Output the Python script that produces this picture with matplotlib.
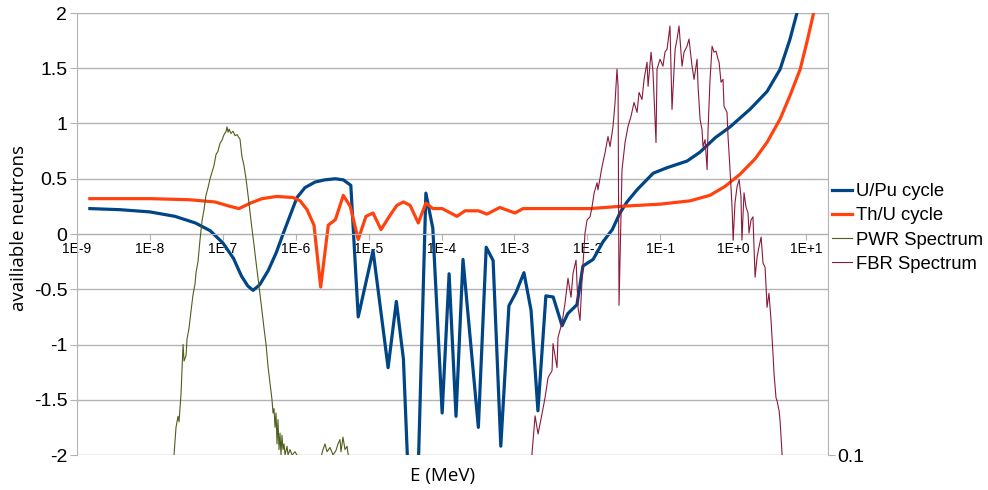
import numpy as np
import matplotlib.pyplot as plt
from matplotlib.ticker import NullLocator

plt.rcParams['font.family'] = ['Liberation Sans', 'DejaVu Sans']

# U/Pu cycle (energy in MeV, available neutrons)
upu_e = [1.5e-9, 3.9e-9, 1.0e-8, 2.2e-8, 4.2e-8, 6.7e-8, 1.0e-7, 1.4e-7, 1.8e-7, 2.2e-7,
         2.6e-7, 3.2e-7, 4.2e-7, 5.4e-7, 6.7e-7, 8.4e-7, 1.04e-6, 1.34e-6, 1.84e-6, 2.5e-6,
         3.5e-6, 4.5e-6, 5.7e-6, 7.2e-6, 1.15e-5, 1.85e-5, 2.4e-5, 3.0e-5, 4.2e-5, 6.1e-5,
         7.6e-5, 1.02e-4, 1.27e-4, 1.58e-4, 1.97e-4, 3.2e-4, 4.1e-4, 5.1e-4, 6.5e-4, 8.4e-4,
         1.05e-3, 1.35e-3, 1.69e-3, 2.1e-3, 2.7e-3, 3.4e-3, 4.5e-3, 5.4e-3, 7.2e-3, 8.7e-3,
         1.2e-2, 1.64e-2, 2.2e-2, 2.8e-2, 3.5e-2, 4.8e-2, 8.0e-2, 0.124, 0.233, 0.35,
         0.565, 0.91, 1.71, 2.92, 4.4, 6.0, 7.5, 9.7]
upu_n = [0.23, 0.22, 0.20, 0.16, 0.10, 0.03, -0.08, -0.22, -0.38, -0.47,
         -0.51, -0.46, -0.33, -0.17, 0.0, 0.17, 0.33, 0.42, 0.47, 0.49,
         0.50, 0.49, 0.44, -0.75, -0.15, -1.21, -0.61, -1.13, -3.5, 0.37,
         0.05, -1.62, -0.36, -1.65, -0.23, -1.75, -0.12, -0.24, -1.92, -0.65,
         -0.53, -0.35, -0.69, -1.60, -0.56, -0.57, -0.83, -0.72, -0.64, -0.29,
         -0.23, -0.07, 0.04, 0.19, 0.29, 0.40, 0.55, 0.60, 0.66, 0.74,
         0.87, 0.97, 1.13, 1.29, 1.49, 1.76, 2.0, 2.3]

# Th/U cycle
thu_e = [1.5e-9, 1.0e-8, 3.5e-8, 7.8e-8, 1.26e-7, 1.67e-7, 2.4e-7, 3.45e-7, 5.5e-7, 9.2e-7,
         1.15e-6, 1.43e-6, 1.78e-6, 2.2e-6, 2.8e-6, 3.5e-6, 4.5e-6, 5.6e-6, 7.2e-6, 9.2e-6,
         1.15e-5, 1.48e-5, 1.97e-5, 2.45e-5, 3.0e-5, 3.7e-5, 4.8e-5, 6.1e-5, 7.6e-5, 1.02e-4,
         1.63e-4, 2.1e-4, 3.2e-4, 4.2e-4, 6.3e-4, 1.02e-3, 1.31e-3, 3.4e-3, 1.09e-2, 2.8e-2,
         9.9e-2, 0.256, 0.48, 0.77, 1.24, 2.0, 2.92, 4.4, 6.0, 8.3,
         10.3, 12.5, 14.6]
thu_n = [0.32, 0.32, 0.31, 0.29, 0.25, 0.23, 0.28, 0.32, 0.34, 0.33,
         0.30, 0.22, 0.08, -0.48, 0.08, 0.13, 0.35, 0.25, -0.05, 0.16,
         0.19, 0.04, 0.17, 0.26, 0.29, 0.26, 0.10, 0.28, 0.23, 0.23,
         0.16, 0.21, 0.21, 0.18, 0.24, 0.19, 0.23, 0.23, 0.23, 0.25,
         0.27, 0.30, 0.35, 0.43, 0.54, 0.68, 0.83, 1.04, 1.25, 1.49,
         1.74, 1.98, 2.3]

# PWR spectrum (secondary log axis)
pwr_e = [2.0e-8, 2.14e-8, 2.28e-8, 2.43e-8, 2.51e-8, 2.67e-8, 2.85e-8, 2.94e-8, 3.13e-8, 3.23e-8, 3.44e-8,
         3.66e-8, 3.90e-8, 4.16e-8, 4.29e-8, 4.57e-8, 4.87e-8, 5.19e-8, 5.52e-8, 5.88e-8, 6.27e-8,
         6.68e-8, 7.11e-8, 7.57e-8, 8.07e-8, 8.59e-8, 9.15e-8, 9.75e-8, 1.04e-7, 1.11e-7, 1.14e-7,
         1.18e-7, 1.22e-7, 1.29e-7, 1.38e-7, 1.47e-7, 1.57e-7, 1.67e-7, 1.72e-7, 1.83e-7, 1.95e-7,
         2.08e-7, 2.22e-7, 2.36e-7, 2.51e-7, 2.68e-7, 2.85e-7, 3.04e-7, 3.24e-7, 3.45e-7, 3.67e-7,
         3.92e-7, 4.17e-7, 4.44e-7, 4.73e-7, 4.88e-7, 5.04e-7, 5.20e-7, 5.37e-7, 5.54e-7, 5.71e-7,
         5.90e-7, 6.09e-7, 6.28e-7, 6.48e-7, 6.69e-7, 6.91e-7, 7.13e-7, 7.60e-7, 7.84e-7, 8.35e-7,
         8.90e-7, 9.78e-7, 1.04e-6, 1.15e-6, 1.57e-6, 2.15e-6, 2.37e-6, 2.52e-6, 2.69e-6, 2.95e-6,
         3.25e-6, 3.57e-6, 3.80e-6, 4.05e-6, 4.18e-6, 4.45e-6, 4.74e-6, 5.06e-6, 5.38e-6, 6.50e-6]
pwr_flux = [0.07, 0.1, 0.178, 0.224, 0.2, 0.355, 1.0, 0.708, 0.794, 1.12, 1.41,
            2.0, 2.82, 3.55, 4.47, 5.62, 8.91, 13.2, 16.6, 22.4, 26.3,
            31.6, 36.3, 41.7, 52.5, 56.2, 66.1, 70.8, 79.4, 85.1, 93.3,
            83.2, 89.1, 81.3, 85.1, 77.6, 79.4, 74.1, 72.4, 50.1, 41.7,
            31.6, 22.4, 15.8, 11.2, 7.94, 5.62, 3.98, 2.82, 2.0, 1.41,
            1.0, 0.631, 0.447, 0.316, 0.24, 0.263, 0.178, 0.24, 0.126, 0.209,
            0.112, 0.158, 0.1, 0.151, 0.112, 0.126, 0.1, 0.12, 0.1, 0.112,
            0.1, 0.107, 0.1, 0.079, 0.063, 0.089, 0.112, 0.126, 0.107, 0.117,
            0.1, 0.11, 0.126, 0.138, 0.107, 0.145, 0.112, 0.12, 0.089, 0.05]

# FBR spectrum (secondary log axis)
fbr_e = [1.64e-3, 1.74e-3, 1.92e-3, 2.11e-3, 2.39e-3, 2.63e-3, 2.89e-3, 3.28e-3, 3.38e-3, 3.84e-3,
         3.96e-3, 4.50e-3, 4.94e-3, 5.43e-3, 5.97e-3, 6.37e-3, 7.00e-3, 7.45e-3, 7.94e-3, 8.45e-3,
         9.29e-3, 9.91e-3, 1.09e-2, 1.16e-2, 1.24e-2, 1.36e-2, 1.40e-2, 1.59e-2, 1.75e-2, 1.92e-2,
         2.05e-2, 2.25e-2, 2.40e-2, 2.55e-2, 2.64e-2, 2.72e-2, 2.99e-2, 3.29e-2, 3.61e-2, 3.97e-2,
         4.37e-2, 4.81e-2, 5.12e-2, 5.62e-2, 6.00e-2, 6.59e-2, 6.81e-2, 7.48e-2, 7.96e-2, 8.75e-2,
         9.03e-2, 9.93e-2, 0.109, 0.116, 0.124, 0.136, 0.145, 0.160, 0.170, 0.181,
         0.199, 0.212, 0.233, 0.248, 0.273, 0.291, 0.320, 0.330, 0.352, 0.374,
         0.386, 0.412, 0.439, 0.453, 0.482, 0.514, 0.547, 0.582, 0.621, 0.641,
         0.682, 0.726, 0.750, 0.824, 0.851, 0.906, 0.966, 1.00, 1.06, 1.13,
         1.21, 1.28, 1.32, 1.41, 1.50, 1.60, 1.65, 1.76, 1.87, 1.94,
         2.00, 2.13, 2.26, 2.42, 2.57, 2.74, 2.92, 3.10, 3.31, 3.52,
         3.64, 3.87, 4.00, 4.27, 4.40, 4.69, 4.99]
fbr_flux = [0.07, 0.102, 0.226, 0.155, 0.236, 0.330, 0.501, 0.580, 1.02, 0.618,
            1.16, 1.58, 2.36, 3.98, 2.67, 4.42, 5.81, 2.17, 1.65, 3.82,
            10.2, 13.4, 14.3, 17.6, 23.6, 29.1, 25.1, 40.6, 54.5, 76.2,
            61.8, 94.0, 155, 310, 217, 2.26, 38.2, 67.1, 94.0, 116,
            155, 126, 191, 165, 251, 359, 217, 442, 291, 67.1,
            310, 382, 330, 442, 471, 762, 134, 471, 581, 762,
            330, 442, 501, 581, 330, 251, 382, 217, 109, 88.2,
            61.8, 71.6, 38.2, 88.2, 251, 501, 442, 452, 382, 359,
            236, 251, 143, 126, 76.2, 38.2, 17.6, 8.81, 19.1, 26.7,
            31.0, 21.7, 8.81, 23.6, 17.6, 15.5, 10.2, 13.4, 14.3, 7.16,
            4.06, 6.18, 7.62, 9.39, 5.45, 5.01, 2.17, 2.91, 1.65, 0.828,
            0.544, 0.330, 0.310, 0.251, 0.204, 0.102, 0.05]

x_ticks = [1e-9, 1e-8, 1e-7, 1e-6, 1e-5, 1e-4, 1e-3, 1e-2, 1e-1, 1e0, 1e1]
x_labels = ['1E-9', '1E-8', '1E-7', '1E-6', '1E-5', '1E-4', '1E-3', '1E-2', '1E-1', '1E+0', '1E+1']
y_ticks = [-2, -1.5, -1, -0.5, 0, 0.5, 1, 1.5, 2]
y_labels = ['-2', '-1.5', '-1', '-0.5', '0', '0.5', '1', '1.5', '2']

grey = '#b3b3b3'

fig = plt.figure(figsize=(9.88, 4.9), dpi=100)
ax = fig.add_axes([77 / 988, 35 / 490, 751 / 988, 442 / 490])

l1, = ax.plot(upu_e, upu_n, color='#004586', lw=2.3, label='U/Pu cycle')
l2, = ax.plot(thu_e, thu_n, color='#ff420e', lw=2.3, label='Th/U cycle')

ax.set_xscale('log')
ax.set_xlim(1e-9, 20)
ax.set_ylim(-2, 2)
ax.set_xticks(x_ticks)
ax.set_xticklabels(x_labels, fontsize=9.5, fontweight='bold')
ax.xaxis.set_minor_locator(NullLocator())
ax.set_yticks(y_ticks)
ax.set_yticklabels(y_labels, fontsize=14)
ax.yaxis.grid(True, color=grey, lw=1)
ax.set_axisbelow(True)

ax.spines['bottom'].set_position(('data', 0))
ax.spines['top'].set_visible(False)
ax.spines['right'].set_visible(False)
ax.spines['bottom'].set_color(grey)
ax.spines['left'].set_color(grey)
ax.tick_params(axis='y', length=5, color=grey, pad=2)
ax.tick_params(axis='x', length=4, color=grey, pad=1.5)

# secondary axis for the spectra
ax2 = ax.twinx()
l3, = ax2.plot(pwr_e, pwr_flux, color='#4f5e1c', lw=0.8, label='PWR Spectrum')
l4, = ax2.plot(fbr_e, fbr_flux, color='#8b1a3a', lw=0.8, label='FBR Spectrum')
ax2.set_yscale('log')
ax2.set_ylim(0.1, 1000)
ax2.set_yticks([0.1])
ax2.set_yticklabels(['0.1'], fontsize=14)
ax2.yaxis.set_minor_locator(NullLocator())
for s in ['top', 'left', 'bottom']:
    ax2.spines[s].set_visible(False)
ax2.spines['right'].set_color(grey)
ax2.tick_params(axis='y', length=5, color=grey, pad=2)

fig.text(443 / 988, 1 - 476 / 490, 'E (MeV)', ha='center', va='center', fontsize=13.5, family='Open Sans')
fig.text(19 / 988, 1 - 228 / 490, 'availiable neutrons', ha='center', va='center', rotation=90,
         fontsize=13.5, family='Open Sans')

fig.legend(handles=[l1, l2, l3, l4], loc='center left', bbox_to_anchor=(832 / 988, 1 - 228 / 490),
           frameon=False, fontsize=13.3, handlelength=1.1, handletextpad=0.2, labelspacing=0.38,
           borderpad=0, borderaxespad=0)

plt.savefig('out.png', dpi=100)
